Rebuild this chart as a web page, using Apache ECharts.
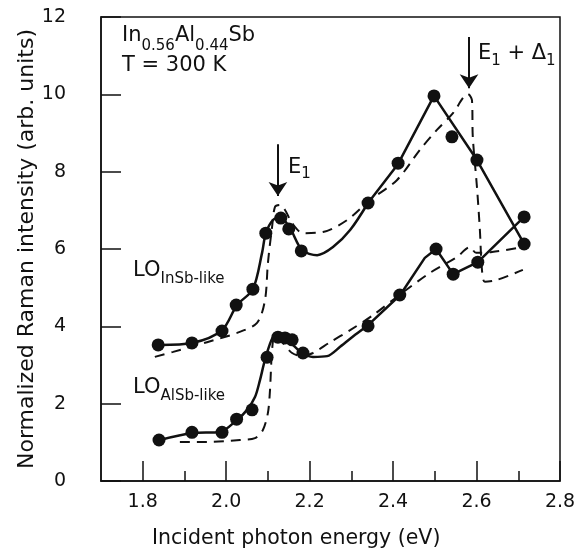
<!DOCTYPE html>
<html>
<head>
<meta charset="utf-8">
<script src="https://cdn.jsdelivr.net/npm/echarts@6/dist/echarts.min.js"></script>
<style>
  html, body { margin: 0; padding: 0; background: #fff; }
  #chart { width: 579px; height: 554px; }
</style>
</head>
<body>
<div id="chart"></div>
<script>
// ---- Data ----
const xTickLabels = [1.8, 2.0, 2.2, 2.4, 2.6, 2.8];
const xMinorTicks = [1.9, 2.1, 2.3, 2.5, 2.7];

// Measured points (filled circles)
const insbDots = [[1.837,3.52],[1.918,3.57],[1.990,3.88],[2.024,4.55],[2.064,4.96],[2.095,6.41],[2.131,6.80],[2.150,6.52],[2.180,5.95],[2.340,7.19],[2.412,8.22],[2.498,9.96],[2.541,8.90],[2.601,8.30],[2.714,6.13]];
const alsbDots = [[1.839,1.06],[1.918,1.26],[1.990,1.26],[2.025,1.60],[2.062,1.84],[2.098,3.20],[2.124,3.72],[2.141,3.70],[2.158,3.65],[2.184,3.31],[2.340,4.01],[2.416,4.81],[2.503,6.00],[2.544,5.35],[2.603,5.66],[2.714,6.83]];

// Solid guide curves: smooth low-energy part, then straight segments
const insbSolidCurve = [[1.841,3.52],[1.918,3.57],[1.990,3.90],[2.026,4.55],[2.064,4.96],[2.086,5.90],[2.095,6.41],[2.112,6.75],[2.129,6.83],[2.153,6.54],[2.182,5.97],[2.218,5.84],[2.256,6.05],[2.297,6.49],[2.340,7.19]];
const insbSolidSegs  = [[2.340,7.19],[2.412,8.20],[2.498,9.96],[2.601,8.30],[2.714,6.13]];
const alsbSolidCurve = [[1.841,1.06],[1.918,1.24],[1.985,1.27],[2.026,1.58],[2.050,1.84],[2.069,2.17],[2.081,2.61],[2.093,3.13],[2.112,3.72],[2.129,3.78],[2.153,3.59],[2.182,3.31],[2.208,3.21],[2.242,3.23],[2.273,3.47],[2.309,3.78],[2.340,4.03]];
const alsbSolidSegs  = [[2.340,4.03],[2.417,4.81],[2.476,5.77],[2.503,6.00],[2.544,5.35],[2.603,5.66],[2.714,6.83]];

// Dashed calculated curves
const insbDashed = [[1.829,3.21],[1.873,3.34],[1.954,3.59],[2.026,3.83],[2.074,4.09],[2.093,4.68],[2.100,5.64],[2.110,6.57],[2.117,7.09],[2.129,7.14],[2.141,7.01],[2.158,6.67],[2.184,6.41],[2.232,6.44],[2.290,6.75],[2.345,7.27],[2.409,7.78],[2.464,8.56],[2.505,9.08],[2.544,9.52],[2.567,9.90],[2.579,10.01],[2.589,9.85],[2.591,8.90],[2.601,7.60],[2.608,6.49],[2.613,5.46],[2.620,5.15],[2.649,5.20],[2.711,5.46]];
const alsbDashed = [[1.889,1.01],[1.954,1.01],[2.033,1.06],[2.069,1.11],[2.088,1.32],[2.100,1.76],[2.105,2.35],[2.110,3.39],[2.117,3.78],[2.136,3.57],[2.158,3.31],[2.182,3.23],[2.208,3.31],[2.249,3.59],[2.297,3.90],[2.352,4.29],[2.409,4.76],[2.488,5.38],[2.553,5.79],[2.584,6.05],[2.599,5.90],[2.637,5.92],[2.711,6.05]];

// Transition arrows (x, y start, y tip)
const arrows = [[2.124, 8.71, 7.37], [2.582, 11.48, 10.16]];

// ---- Chart ----
const chart = echarts.init(document.getElementById('chart'), null, { renderer: 'canvas' });
const FONT = '"DejaVu Sans", "Liberation Sans", Arial, sans-serif';
const INK = '#111';

function subText(mainSize, subSize, lineH) {
  return {
    m: { fontSize: mainSize, fontFamily: FONT, lineHeight: 24, verticalAlign: 'top', fill: INK, color: INK },
    s: { fontSize: subSize, fontFamily: FONT, lineHeight: lineH, verticalAlign: 'middle', fill: INK, color: INK }
  };
}

const curveBase = { type: 'line', showSymbol: false, symbol: 'none', silent: true, z: 3 };
const solidStyle = { color: INK, width: 2.5 };
const dashStyle = { color: INK, width: 2, type: [10, 7] };

chart.setOption({
  animation: false,
  backgroundColor: '#fff',
  grid: { left: 101, top: 17, right: 19, bottom: 73, show: true, borderColor: INK, borderWidth: 1.5, backgroundColor: 'transparent' },
  xAxis: [{
    type: 'value', min: 1.7, max: 2.8,
    axisLine: { show: true, lineStyle: { color: INK, width: 1.5 } },
    axisTick: { show: true, inside: true, length: 20, customValues: xTickLabels, lineStyle: { color: INK, width: 1.5 } },
    axisLabel: { customValues: xTickLabels, margin: 12, color: INK, fontSize: 19, fontFamily: FONT, formatter: v => v.toFixed(1) },
    splitLine: { show: false }
  }, {
    type: 'value', min: 1.7, max: 2.8, position: 'bottom',
    axisLine: { show: false },
    axisTick: { show: true, inside: true, length: 10, customValues: xMinorTicks, lineStyle: { color: INK, width: 1.5 } },
    axisLabel: { show: false },
    splitLine: { show: false }
  }],
  yAxis: {
    type: 'value', min: 0, max: 12, interval: 2,
    name: 'Normalized Raman intensity (arb. units)',
    nameLocation: 'middle', nameGap: 63, nameRotate: 90, nameMoveOverlap: false,
    nameTextStyle: { color: INK, fontSize: 22, fontFamily: FONT },
    axisLine: { show: true, lineStyle: { color: INK, width: 1.5 } },
    axisTick: { show: true, inside: true, length: 20, lineStyle: { color: INK, width: 1.5 } },
    axisLabel: { margin: 35, color: INK, fontSize: 19, fontFamily: FONT },
    splitLine: { show: false }
  },
  graphic: [
    { type: 'text', left: 122, top: 25, silent: true, style: {
      text: '{m|In}{s|0.56}{m|Al}{s|0.44}{m|Sb}', fill: INK, fontSize: 21, fontFamily: FONT, rich: subText(21, 15, 42) } },
    { type: 'text', left: 122, top: 55, silent: true, style: { text: 'T = 300 K', fill: INK, fontSize: 21, fontFamily: FONT } },
    { type: 'text', left: 133, top: 260, silent: true, style: {
      text: '{m|LO}{s|InSb-like}', fill: INK, fontSize: 21, fontFamily: FONT, rich: subText(21, 15, 39) } },
    { type: 'text', left: 133, top: 377, silent: true, style: {
      text: '{m|LO}{s|AlSb-like}', fill: INK, fontSize: 21, fontFamily: FONT, rich: subText(21, 15, 39) } },
    { type: 'text', left: 288, top: 157, silent: true, style: {
      text: '{m|E}{s|1}', fill: INK, fontSize: 21, fontFamily: FONT, rich: subText(21, 15, 34) } },
    { type: 'text', left: 478, top: 43, silent: true, style: {
      text: '{m|E}{s|1}{m| + Δ}{s|1}', fill: INK, fontSize: 21, fontFamily: FONT, rich: subText(21, 15, 36) } },
    { type: 'text', left: 152, top: 528, silent: true, style: { text: 'Incident photon energy (eV)', fill: INK, fontSize: 20.5, fontFamily: FONT } }
  ],
  series: [
    Object.assign({}, curveBase, { name: 'InSb calc', data: insbDashed, smooth: 0.3, lineStyle: dashStyle }),
    Object.assign({}, curveBase, { name: 'AlSb calc', data: alsbDashed, smooth: 0.3, lineStyle: dashStyle }),
    Object.assign({}, curveBase, { name: 'InSb fit', data: insbSolidCurve, smooth: 0.3, lineStyle: solidStyle }),
    Object.assign({}, curveBase, { name: 'InSb fit 2', data: insbSolidSegs, smooth: false, lineStyle: solidStyle }),
    Object.assign({}, curveBase, { name: 'AlSb fit', data: alsbSolidCurve, smooth: 0.3, lineStyle: solidStyle }),
    Object.assign({}, curveBase, { name: 'AlSb fit 2', data: alsbSolidSegs, smooth: false, lineStyle: solidStyle }),
    { type: 'scatter', name: 'LO InSb-like', data: insbDots, symbol: 'circle', symbolSize: 13, itemStyle: { color: INK, opacity: 1 }, z: 5 },
    { type: 'scatter', name: 'LO AlSb-like', data: alsbDots, symbol: 'circle', symbolSize: 13, itemStyle: { color: INK, opacity: 1 }, z: 5 },
    { type: 'lines', coordinateSystem: 'cartesian2d', silent: true, z: 4,
      data: arrows.map(a => ({ coords: [[a[0], a[1]], [a[0], a[2]]] })),
      symbol: ['none', 'arrow'], symbolSize: 14,
      lineStyle: { color: INK, width: 2, opacity: 1, curveness: 0 } }
  ]
});
</script>
</body>
</html>
